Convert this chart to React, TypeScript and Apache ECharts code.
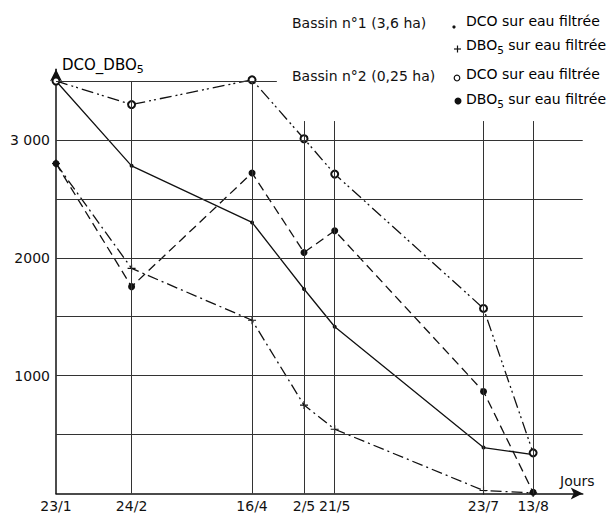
import React, { useEffect, useRef } from "react";
import * as echarts from "echarts";

// Dates of sampling and their positions along the time axis (days since 23/1, as drawn)
const dates = ["23/1", "24/2", "16/4", "2/5", "21/5", "23/7", "13/8"];
const datePositions = [0, 32, 83, 105, 118, 181, 202];

// Bassin n°1 (3,6 ha)
const b1DCO = [3500, 2780, 2300, 1735, 1415, 390, 330];
const b1DBO = [2800, 1910, 1470, 750, 545, 25, 5];
// Bassin n°2 (0,25 ha)
const b2DCO = [3500, 3300, 3510, 3010, 2710, 1570, 345];
const b2DBO = [2800, 1755, 2720, 2045, 2230, 865, 10];

const yTickValues = [1000, 2000, 3000];
const yTickLabels = ["1000", "2000", "3 000"];
const hGridValues = [500, 1000, 1500, 2000, 2500, 3000];
const hGridTopValue = 3500;
const hGridTopEnd = 93.5;
const vGridTops = [0, 3500, 3500, 3160, 3160, 3160, 3160];

const X_MAX = 223;
const Y_MAX = 3600;
const INK = "#111";
const FONT = "DejaVu Sans";

export default function App() {
  const ref = useRef<HTMLDivElement>(null);
  useEffect(() => {
    if (!ref.current) return;
    const chart = echarts.init(ref.current, undefined, { renderer: "svg" });
    const pts = (vals: number[]) => datePositions.map((x, i) => [x, vals[i]]);
    const gridLines: any[] = [];
    hGridValues.forEach((v) =>
      gridLines.push([{ coord: [0, v] }, { coord: [X_MAX, v] }])
    );
    gridLines.push([{ coord: [0, hGridTopValue] }, { coord: [hGridTopEnd, hGridTopValue] }]);
    datePositions.forEach((x, i) => {
      if (vGridTops[i] > 0) gridLines.push([{ coord: [x, 0] }, { coord: [x, vGridTops[i]] }]);
    });
    const baseText = { fontFamily: FONT, fontSize: 14, fill: INK };
    const rich = {
      m: { fontFamily: FONT, fontSize: 14, color: INK, lineHeight: 20 },
      s: { fontFamily: FONT, fontSize: 10.5, color: INK, lineHeight: 10, verticalAlign: "bottom" },
    };
    const richBig = {
      m: { fontFamily: FONT, fontSize: 15, color: INK, lineHeight: 20 },
      s: { fontFamily: FONT, fontSize: 11, color: INK, lineHeight: 10, verticalAlign: "bottom" },
    };
    const plus = "path://M4.3,0H5.7V4.3H10V5.7H5.7V10H4.3V5.7H0V4.3H4.3Z";
    chart.setOption({
      animation: false,
      backgroundColor: "#fff",
      grid: { left: 56, right: 616 - 56 - X_MAX * 2.362, top: 69.2, bottom: 19.5 },
      xAxis: {
        type: "value",
        min: 0,
        max: X_MAX,
        axisLine: {
          show: true,
          symbol: ["none", "arrow"],
          symbolSize: [9, 12],
          lineStyle: { color: INK, width: 1.5 },
        },
        axisTick: { show: false },
        splitLine: { show: false },
        axisLabel: {
          customValues: datePositions,
          formatter: (v: number) => dates[datePositions.indexOf(v)] ?? "",
          fontFamily: FONT,
          fontSize: 14,
          color: INK,
          margin: 5,
        },
      },
      yAxis: {
        type: "value",
        min: 0,
        max: Y_MAX,
        axisLine: {
          show: true,
          symbol: ["none", "arrow"],
          symbolSize: [9, 12],
          lineStyle: { color: INK, width: 1.5 },
        },
        axisTick: { show: false },
        splitLine: { show: false },
        axisLabel: {
          customValues: yTickValues,
          formatter: (v: number) => yTickLabels[yTickValues.indexOf(v)] ?? "",
          fontFamily: FONT,
          fontSize: 14,
          color: INK,
          margin: 6,
        },
      },
      series: [
        {
          type: "line",
          data: [],
          silent: true,
          markLine: {
            silent: true,
            symbol: ["none", "none"],
            label: { show: false },
            lineStyle: { color: "#333", width: 1, type: "solid" },
            data: gridLines,
          },
        },
        {
          name: "B1 DCO",
          type: "line",
          data: pts(b1DCO),
          symbol: "circle",
          symbolSize: 4,
          lineStyle: { color: INK, width: 1.3, type: "solid" },
          itemStyle: { color: INK },
        },
        {
          name: "B1 DBO5",
          type: "line",
          data: pts(b1DBO),
          symbol: plus,
          symbolSize: 8,
          lineStyle: { color: INK, width: 1.3, type: [11, 4, 2, 4] },
          itemStyle: { color: INK },
        },
        {
          name: "B2 DBO5",
          type: "line",
          data: pts(b2DBO),
          symbol: "circle",
          symbolSize: 7,
          lineStyle: { color: INK, width: 1.3, type: [9, 5] },
          itemStyle: { color: INK },
        },
        {
          name: "B2 DCO",
          type: "line",
          data: pts(b2DCO),
          symbol: "emptyCircle",
          symbolSize: 7,
          lineStyle: { color: INK, width: 1.3, type: [12, 4, 2, 3, 2, 4] },
          itemStyle: { color: INK, borderWidth: 1.3 },
        },
      ],
      graphic: [
        { type: "text", left: 62, top: 57, style: { text: "{m|DCO_DBO}{s|5}", rich: richBig } },
        { type: "text", left: 560, top: 474, style: { ...baseText, text: "Jours" } },
        { type: "text", left: 292, top: 16, style: { ...baseText, text: "Bassin n°1 (3,6 ha)" } },
        { type: "text", left: 292, top: 69, style: { ...baseText, text: "Bassin n°2 (0,25 ha)" } },
        { type: "text", left: 466, top: 14, style: { text: "{m|DCO sur eau filtrée}", rich } },
        { type: "text", left: 466, top: 38, style: { text: "{m|DBO}{s|5}{m| sur eau filtrée}", rich } },
        { type: "text", left: 466, top: 67, style: { text: "{m|DCO sur eau filtrée}", rich } },
        { type: "text", left: 466, top: 92, style: { text: "{m|DBO}{s|5}{m| sur eau filtrée}", rich } },
        { type: "circle", shape: { cx: 454, cy: 27, r: 1.6 }, style: { fill: INK } },
        { type: "line", shape: { x1: 454, y1: 49, x2: 461, y2: 49 }, style: { stroke: INK, lineWidth: 1.2 } },
        { type: "line", shape: { x1: 457.5, y1: 45.5, x2: 457.5, y2: 52.5 }, style: { stroke: INK, lineWidth: 1.2 } },
        { type: "circle", shape: { cx: 457, cy: 78, r: 2.8 }, style: { fill: "#fff", stroke: INK, lineWidth: 1.2 } },
        { type: "circle", shape: { cx: 458, cy: 101, r: 3.5 }, style: { fill: INK } },
      ],
    });
    return () => chart.dispose();
  }, []);
  return (
    <div
      ref={ref}
      style={{ position: "fixed", left: 0, top: 0, width: 616, height: 513, background: "#fff" }}
    />
  );
}
